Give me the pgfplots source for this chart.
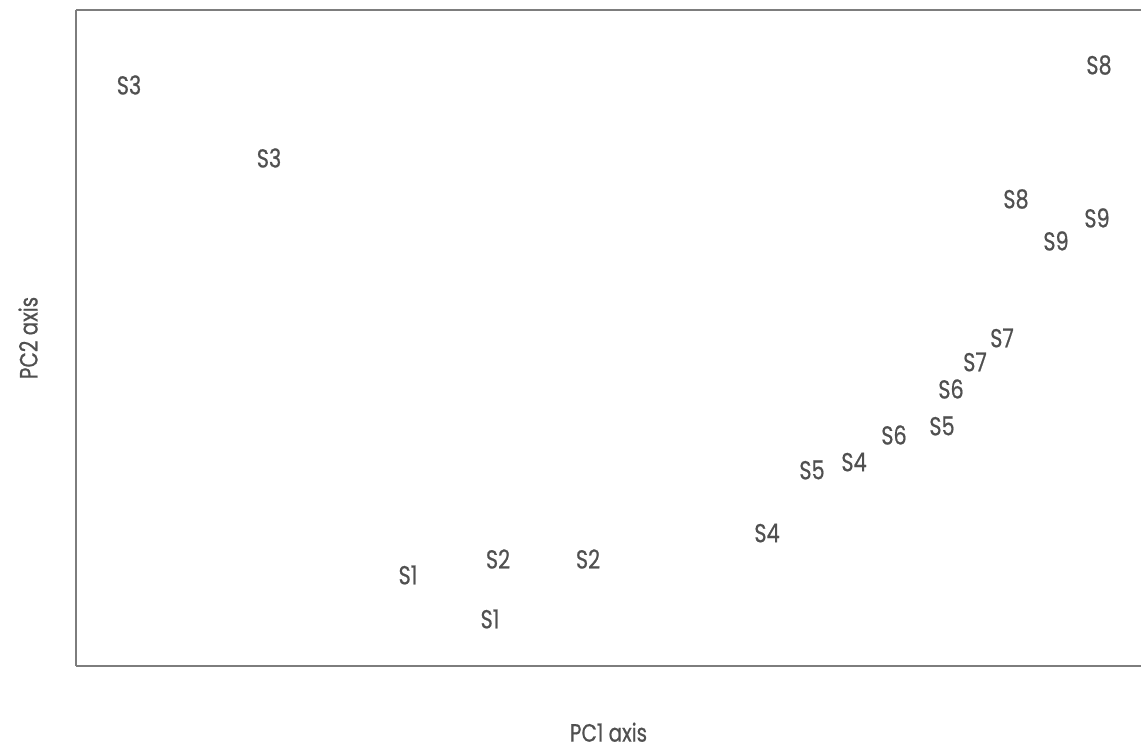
\documentclass[border=0pt]{standalone}
\usepackage{pgfplots}
\pgfplotsset{compat=1.18}
\usepackage{pgfplotstable}
\usepackage{fontspec}
\setmainfont{Poppins}[FakeStretch=0.8, FakeBold=0.6]
\definecolor{txt}{RGB}{80,80,80}
\definecolor{frame}{RGB}{125,125,125}
\pgfplotstableread{
label x y
S3 129 663
S3 269 590
S1 408 173
S2 498 189
S2 588 189
S1 490 129
S4 767 215
S5 812 278
S4 854 286
S6 894 313
S5 942 322
S6 951 359
S7 975 386
S7 1002 410
S8 1016 549
S9 1056 507
S9 1097 530
S8 1099 683
}\pcadata
\begin{document}
\begin{tikzpicture}
\begin{axis}[
  scale only axis,
  width=532.5pt, height=328pt,
  xmin=76, xmax=1141, ymin=82, ymax=738,
  xtick=\empty, ytick=\empty,
  axis lines*=left,
  axis line style={draw=frame, line width=0.9pt},
  clip=false,
  xlabel={PC1 axis}, ylabel={PC2 axis},
  every axis x label/.style={at={(axis description cs:0.5,-0.101)}, anchor=center, inner sep=0pt, font=\fontsize{12.5}{14}\selectfont, text=txt},
  every axis y label/.style={at={(axis description cs:-0.045,0.5)}, anchor=center, rotate=90, font=\fontsize{12.5}{14}\selectfont, text=txt},
]
\addplot[draw=none, mark=none, nodes near coords, point meta=explicit symbolic,
  nodes near coords align={center},
  every node near coord/.append style={anchor=center, font=\fontsize{13}{15}\selectfont, text=txt, inner sep=0pt}]
  table[x=x, y=y, meta=label] {\pcadata};
\draw[frame, line width=0.9pt] (rel axis cs:0,1) -- (rel axis cs:1,1);
\coordinate (bb1) at (rel axis cs:0,0);
\coordinate (bb2) at (rel axis cs:1,1);
\end{axis}
\pgfresetboundingbox
\path[use as bounding box] ([shift={(-38pt,-41pt)}]bb1) rectangle ([shift={(0pt,5pt)}]bb2);
\end{tikzpicture}
\end{document}
